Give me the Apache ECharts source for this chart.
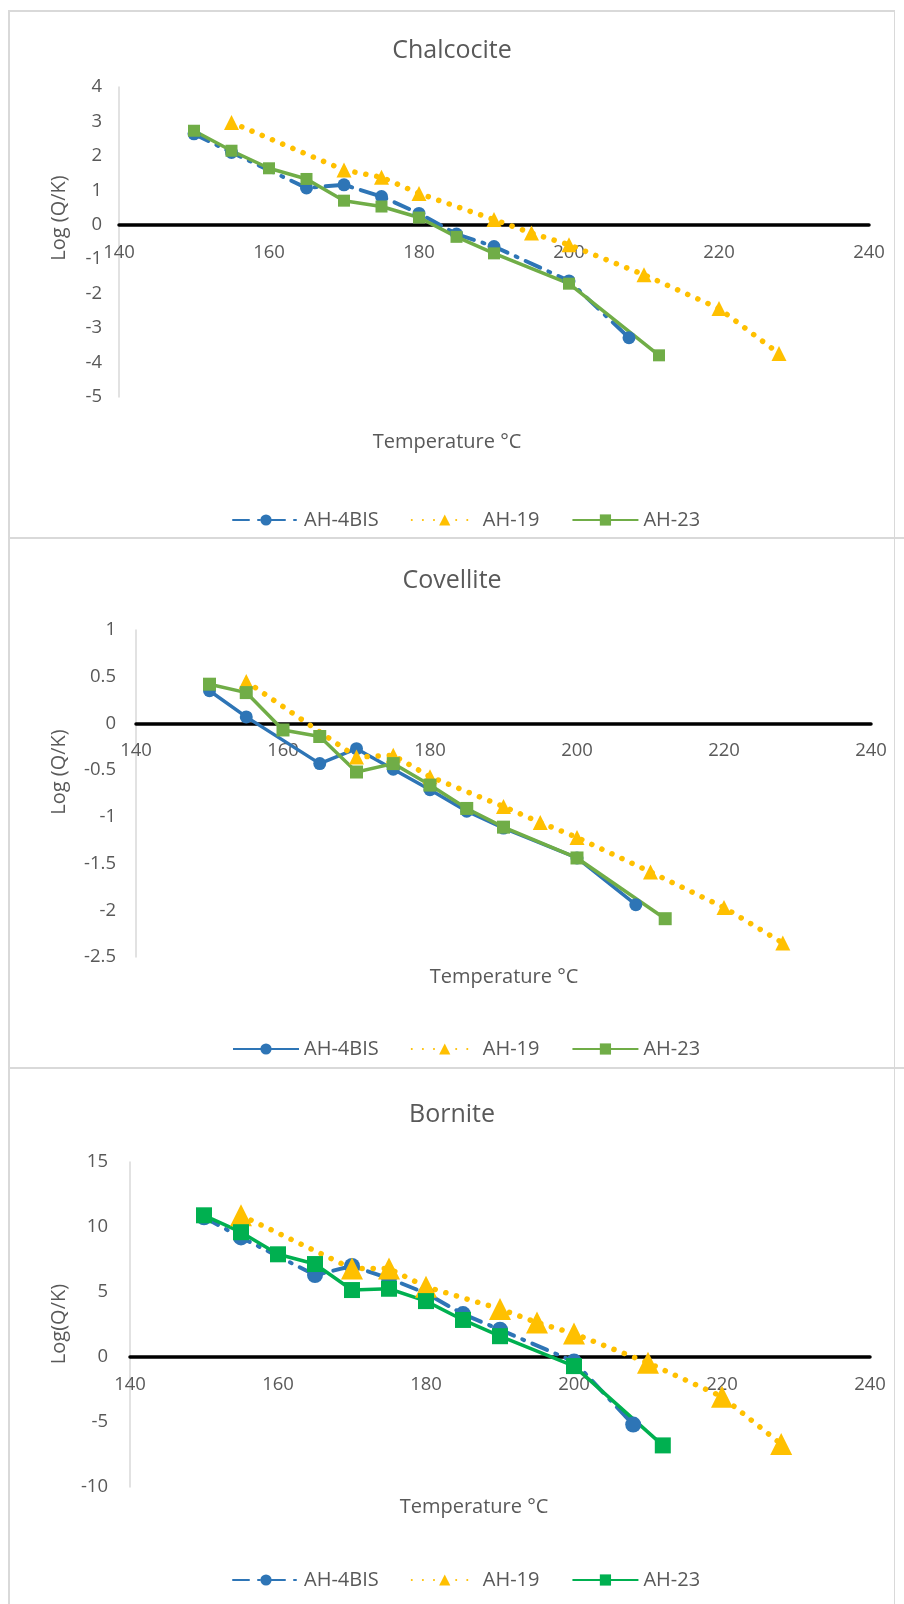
<!DOCTYPE html>
<html><head><meta charset="utf-8">
<script src="https://cdn.jsdelivr.net/npm/echarts@6/dist/echarts.min.js"></script>
<style>
html,body{margin:0;padding:0;background:#fff;}
#wrap{position:relative;width:904px;height:1604px;overflow:hidden;background:#fff;}
.c{position:absolute;left:0;width:904px;}
.ln{position:absolute;background:#d9d9d9;z-index:5;}
</style></head><body>
<div id="wrap">
  <div id="c1" class="c" style="top:0;height:538px"></div>
  <div id="c2" class="c" style="top:538px;height:530px"></div>
  <div id="c3" class="c" style="top:1068px;height:536px"></div>
  <div class="ln" style="left:8px;top:10px;width:2px;height:1594px"></div>
  <div class="ln" style="left:894px;top:10px;width:1px;height:1594px"></div>
  <div class="ln" style="left:8px;top:10px;width:887px;height:2px"></div>
  <div class="ln" style="left:8px;top:537px;width:896px;height:2px"></div>
  <div class="ln" style="left:8px;top:1067px;width:896px;height:2px"></div>
</div>
<script>
// ---- data ----
const seriesNames = ['AH-4BIS', 'AH-19', 'AH-23'];
// temperatures (°C) of each sample
const tempAH4BIS = [150, 155, 165, 170, 175, 180, 185, 190, 200, 208];
const tempAH19   = [155, 170, 175, 180, 190, 195, 200, 210, 220, 228];
const tempAH23   = [150, 155, 160, 165, 170, 175, 180, 185, 190, 200, 212];

// Chalcocite log(Q/K)
const chalcociteAH4BIS = [2.64, 2.10, 1.07, 1.16, 0.82, 0.33, -0.27, -0.63, -1.63, -3.28];
const chalcociteAH19   = [2.97, 1.59, 1.38, 0.91, 0.15, -0.24, -0.58, -1.45, -2.43, -3.74];
const chalcociteAH23   = [2.73, 2.15, 1.64, 1.33, 0.70, 0.53, 0.21, -0.35, -0.83, -1.71, -3.79];

// Covellite log(Q/K)
const covelliteAH4BIS = [0.35, 0.07, -0.43, -0.27, -0.49, -0.71, -0.94, -1.12, -1.44, -1.94];
const covelliteAH19   = [0.45, -0.36, -0.34, -0.57, -0.89, -1.06, -1.22, -1.59, -1.97, -2.35];
const covelliteAH23   = [0.42, 0.33, -0.07, -0.14, -0.52, -0.43, -0.66, -0.91, -1.11, -1.44, -2.09];

// Bornite log(Q/K)
const borniteAH4BIS = [10.75, 9.2, 6.3, 7.0, 6.05, 4.9, 3.3, 2.1, -0.35, -5.2];
const borniteAH19   = [10.9, 6.8, 6.8, 5.4, 3.7, 2.65, 1.8, -0.45, -3.05, -6.7];
const borniteAH23   = [10.9, 9.6, 7.9, 7.15, 5.15, 5.25, 4.3, 2.85, 1.6, -0.7, -6.8];

// axis ranges
const xAxisRange = {min: 140, max: 240, interval: 20};
const chalcociteY = {min: -5, max: 4, interval: 1};
const covelliteY  = {min: -2.5, max: 1, interval: 0.5};
const borniteY    = {min: -10, max: 15, interval: 5};

// ---- helpers ----
const FONT = '"Open Sans", "Noto Sans", sans-serif';
const GREY = '#595959';
const BLUE = '#2E75B6', YELLOW = '#FFC000';

function zip(t, v) { return t.map((x, i) => [x, v[i]]); }

function textEl(text, x, y, size, rot) {
  return {
    type: 'text', x: x, y: y, rotation: rot || 0, silent: true,
    style: {text: text, fill: GREY, font: 'normal ' + size + 'px ' + FONT,
            textAlign: 'center', textVerticalAlign: 'middle'}
  };
}

function build(cfg) {
  const dashDot = {type: [16, 9, 2, 9], cap: 'round', width: 4};
  // place the x axis (line + labels) at y = 0 of the value axis
  const zeroOffset = -cfg.grid.height * (0 - cfg.y.min) / (cfg.y.max - cfg.y.min);
  return {
    animation: false,
    grid: cfg.grid,
    graphic: [
      textEl(cfg.title, 452, cfg.titleY, 25),
      textEl(cfg.yName, 59, cfg.yNameY, 20, Math.PI / 2),
      textEl('Temperature °C', cfg.xNameX, cfg.xNameY, 20)
    ],
    legend: {
      data: seriesNames, left: 227, top: cfg.legendY - 10,
      itemWidth: 66, itemHeight: 14, itemGap: 32,
      textStyle: {color: GREY, fontSize: 20, fontFamily: FONT}
    },
    xAxis: {
      type: 'value', min: xAxisRange.min, max: xAxisRange.max, interval: xAxisRange.interval,
      position: 'bottom', offset: zeroOffset,
      axisLine: {show: true, onZero: false, lineStyle: {color: '#000', width: 3.5}},
      axisTick: {show: false}, splitLine: {show: false},
      axisLabel: {color: GREY, fontSize: 18.5, fontFamily: FONT, margin: 18}
    },
    yAxis: {
      type: 'value', min: cfg.y.min, max: cfg.y.max, interval: cfg.y.interval,
      axisLine: {show: true, lineStyle: {color: '#d9d9d9', width: 1.5}},
      axisTick: {show: false}, splitLine: {show: false},
      axisLabel: {color: GREY, fontSize: 18.5, fontFamily: FONT, margin: cfg.yMargin}
    },
    series: [
      {name: 'AH-4BIS', type: 'line', data: zip(tempAH4BIS, cfg.d4), symbol: 'circle',
       symbolSize: cfg.sz[0], itemStyle: {color: BLUE},
       lineStyle: cfg.blueSolid ? {type: 'solid', width: 3.5, color: BLUE} : Object.assign({color: BLUE}, dashDot)},
      {name: 'AH-19', type: 'line', data: zip(tempAH19, cfg.d19), symbol: 'triangle',
       symbolSize: cfg.sz[1], itemStyle: {color: YELLOW},
       lineStyle: {type: [0.1, 11], cap: 'round', width: 5.5, color: YELLOW}},
      {name: 'AH-23', type: 'line', data: zip(tempAH23, cfg.d23), symbol: 'rect',
       symbolSize: cfg.sz[2], itemStyle: {color: cfg.green},
       lineStyle: {type: 'solid', width: 3.5, color: cfg.green}}
    ]
  };
}

const charts = [
  {id: 'c1', title: 'Chalcocite', titleY: 51, yName: 'Log (Q/K)', yNameY: 218,
   xNameX: 447, xNameY: 442, legendY: 515, y: chalcociteY, yMargin: 17,
   grid: {left: 119, right: 35, top: 87, height: 310},
   d4: chalcociteAH4BIS, d19: chalcociteAH19, d23: chalcociteAH23,
   sz: [13, 15, 12], green: '#70AD47', blueSolid: false},
  {id: 'c2', title: 'Covellite', titleY: 43, yName: 'Log (Q/K)', yNameY: 234,
   xNameX: 504, xNameY: 439, legendY: 506, y: covelliteY, yMargin: 20,
   grid: {left: 136, right: 33, top: 92, height: 327},
   d4: covelliteAH4BIS, d19: covelliteAH19, d23: covelliteAH23,
   sz: [13, 15, 13], green: '#70AD47', blueSolid: true},
  {id: 'c3', title: 'Bornite', titleY: 47, yName: 'Log(Q/K)', yNameY: 256,
   xNameX: 474, xNameY: 439, legendY: 507, y: borniteY, yMargin: 22,
   grid: {left: 130, right: 34, top: 94, height: 325},
   d4: borniteAH4BIS, d19: borniteAH19, d23: borniteAH23,
   sz: [16, 22, 16], green: '#00B050', blueSolid: false}
];

charts.forEach(cfg => {
  const ch = echarts.init(document.getElementById(cfg.id), null, {renderer: 'canvas'});
  ch.setOption(build(cfg));
});
</script>
</body></html>
